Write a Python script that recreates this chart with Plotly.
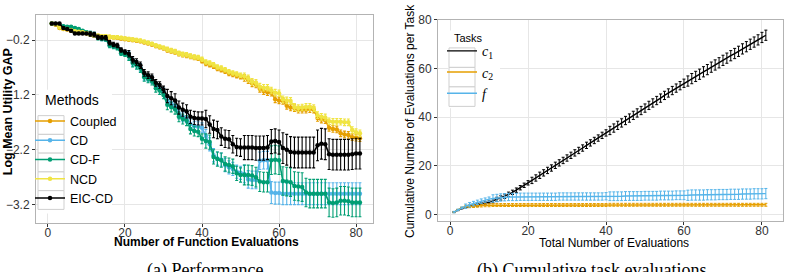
import plotly.graph_objects as go

# ---------------- data: (a) Performance ----------------
x_eval = list(range(1, 82))

coupled = [0.10, 0.08, 0.02, 0.00, -0.01, -0.03, -0.05, -0.06, -0.06, -0.08,
           -0.10, -0.12, -0.13, -0.14, -0.14, -0.15, -0.15, -0.16, -0.17, -0.18,
           -0.19, -0.20, -0.21, -0.22, -0.24, -0.26, -0.28, -0.31, -0.33, -0.35,
           -0.38, -0.40, -0.42, -0.45, -0.47, -0.48, -0.50, -0.52, -0.53, -0.58,
           -0.63, -0.65, -0.68, -0.72, -0.74, -0.77, -0.81, -0.83, -0.85, -0.87,
           -0.89, -0.93, -0.99, -1.01, -1.09, -1.13, -1.15, -1.16, -1.28, -1.30,
           -1.31, -1.40, -1.43, -1.44, -1.47, -1.47, -1.47, -1.46, -1.47, -1.62,
           -1.65, -1.66, -1.80, -1.82, -1.83, -1.90, -1.92, -1.93, -1.97, -1.98,
           -1.99]
coupled_err = [0.02]*10 + [0.03]*20 + [0.04]*20 + [0.06]*31

ncd = [0.10, 0.09, 0.03, 0.01, 0.00, -0.02, -0.04, -0.05, -0.06, -0.07,
       -0.09, -0.11, -0.12, -0.13, -0.13, -0.14, -0.15, -0.15, -0.16, -0.17,
       -0.18, -0.19, -0.20, -0.21, -0.23, -0.25, -0.27, -0.30, -0.32, -0.34,
       -0.37, -0.39, -0.41, -0.44, -0.46, -0.47, -0.49, -0.51, -0.52, -0.55,
       -0.60, -0.62, -0.65, -0.69, -0.71, -0.74, -0.78, -0.80, -0.82, -0.84,
       -0.86, -0.90, -0.96, -0.98, -1.05, -1.07, -1.07, -1.12, -1.16, -1.17,
       -1.28, -1.30, -1.31, -1.42, -1.44, -1.43, -1.42, -1.42, -1.44, -1.57,
       -1.60, -1.61, -1.68, -1.69, -1.69, -1.69, -1.70, -1.70, -1.84, -1.88,
       -1.90]
ncd_err = [0.02]*10 + [0.03]*20 + [0.04]*20 + [0.06]*31

cd = [0.10, 0.09, 0.06, 0.04, 0.03, 0.03, 0.00, -0.02, -0.04, -0.06,
      -0.08, -0.10, -0.15, -0.17, -0.18, -0.29, -0.31, -0.33, -0.43, -0.45,
      -0.48, -0.60, -0.64, -0.70, -0.86, -0.89, -0.92, -1.03, -1.07, -1.14,
      -1.30, -1.35, -1.40, -1.55, -1.60, -1.62, -1.73, -1.77, -1.78, -1.80,
      -1.95, -2.10, -2.30, -2.36, -2.38, -2.48, -2.52, -2.55, -2.60, -2.62,
      -2.64, -2.74, -2.75, -2.75, -2.40, -2.39, -2.39, -2.98, -2.99, -2.99,
      -3.00, -3.00, -3.00, -3.00, -3.00, -3.00, -3.00, -3.00, -3.00, -3.00,
      -3.00, -3.00, -3.00, -3.00, -3.00, -3.00, -3.00, -3.00, -3.00, -3.00,
      -3.00]
cd_err = [0.02]*10 + [0.04]*10 + [0.07]*10 + [0.09]*10 + [0.12]*10 + [0.16]*7 + [0.2]*24

cdf = [0.10, 0.09, 0.07, 0.05, 0.04, 0.04, 0.02, 0.00, -0.03, -0.06,
       -0.08, -0.10, -0.16, -0.17, -0.18, -0.30, -0.32, -0.34, -0.44, -0.46,
       -0.50, -0.62, -0.66, -0.72, -0.88, -0.91, -0.95, -1.08, -1.12, -1.20,
       -1.38, -1.42, -1.46, -1.60, -1.64, -1.67, -1.82, -1.86, -1.87, -2.00,
       -2.04, -2.06, -2.33, -2.37, -2.39, -2.46, -2.48, -2.50, -2.63, -2.66,
       -2.66, -2.66, -2.67, -2.70, -2.78, -2.79, -2.79, -2.39, -2.38, -2.39,
       -2.77, -2.78, -2.79, -2.86, -2.87, -2.88, -2.98, -3.00, -3.00, -3.00,
       -3.00, -3.00, -3.16, -3.17, -3.16, -3.13, -3.13, -3.14, -3.16, -3.16,
       -3.16]
cdf_err = [0.02]*10 + [0.04]*10 + [0.07]*10 + [0.09]*10 + [0.13]*10 + [0.18]*7 + [0.26]*24

eiccd = [0.10, 0.10, 0.10, 0.02, 0.00, -0.03, -0.08, -0.08, -0.08, -0.08,
         -0.09, -0.10, -0.15, -0.16, -0.16, -0.25, -0.28, -0.30, -0.38, -0.42,
         -0.45, -0.56, -0.60, -0.66, -0.80, -0.84, -0.88, -0.98, -1.02, -1.10,
         -1.22, -1.26, -1.30, -1.43, -1.47, -1.50, -1.60, -1.62, -1.63, -1.63,
         -1.64, -1.74, -1.82, -1.84, -1.96, -2.00, -2.01, -2.10, -2.15, -2.16,
         -2.16, -2.16, -2.16, -2.17, -2.17, -2.17, -2.16, -2.05, -2.04, -2.06,
         -2.17, -2.20, -2.24, -2.25, -2.25, -2.25, -2.25, -2.25, -2.25, -2.12,
         -2.09, -2.10, -2.28, -2.29, -2.29, -2.29, -2.29, -2.29, -2.28, -2.27,
         -2.27]
eiccd_err = [0.02]*10 + [0.04]*10 + [0.06]*10 + [0.12]*10 + [0.16]*10 + [0.22]*10 + [0.28]*21

methods = ["Coupled", "CD", "CD-F", "NCD", "EIC-CD"]
method_vals = [coupled, cd, cdf, ncd, eiccd]
method_errs = [coupled_err, cd_err, cdf_err, ncd_err, eiccd_err]
method_colors = ["#E69F00", "#56B4E9", "#009E73", "#F0E442", "#000000"]

perf_xticks = [0, 20, 40, 60, 80]
perf_yticks = [-0.2, -1.2, -2.2, -3.2]

# ---------------- data: (b) Cumulative task evaluations ----------------
c1 = [1.0, 1.8, 2.5, 3.0, 3.3, 3.6, 3.9, 4.3, 4.7, 5.1,
      5.6, 6.2, 6.8, 7.5, 8.3, 9.1, 10.0, 11.0, 12.0, 13.0,
      14.0, 15.0, 16.1, 17.1, 18.1, 19.1, 20.2, 21.2, 22.2, 23.2,
      24.3, 25.3, 26.3, 27.3, 28.4, 29.4, 30.4, 31.4, 32.5, 33.5,
      34.5, 35.5, 36.6, 37.6, 38.6, 39.6, 40.7, 41.7, 42.7, 43.7,
      44.8, 45.8, 46.8, 47.8, 48.9, 49.9, 50.9, 51.9, 52.9, 53.9,
      54.8, 55.8, 56.7, 57.6, 58.6, 59.5, 60.5, 61.4, 62.3, 63.3,
      64.2, 65.2, 66.1, 67.0, 68.0, 68.9, 69.9, 70.8, 71.7, 72.7,
      73.6]
c1_err = [0.2]*5 + [0.5]*5 + [0.9]*10 + [1.3]*20 + [1.7]*20 + [2.1]*21

c2 = [1.0, 1.9, 2.8, 3.2, 3.4, 3.5, 3.6, 3.7, 3.8, 3.8,
      3.9, 3.9, 3.9, 3.9, 3.9, 3.9, 3.9, 3.9, 3.9, 3.9,
      3.9, 3.9, 3.9, 3.9, 3.9, 3.9, 3.9, 3.9, 3.9, 3.9,
      3.9, 3.9, 3.9, 3.9, 3.9, 3.9, 3.9, 3.9, 3.9, 3.9,
      4.0, 4.0, 4.0, 4.0, 4.0, 4.0, 4.0, 4.0, 4.0, 4.0,
      4.0, 4.0, 4.0, 4.0, 4.0, 4.0, 4.0, 4.0, 4.0, 4.0,
      4.0, 4.0, 4.0, 4.0, 4.0, 4.0, 4.0, 4.0, 4.0, 4.0,
      4.0, 4.0, 4.0, 4.0, 4.0, 4.0, 4.0, 4.0, 4.0, 4.0,
      4.0]
c2_err = [0.2]*3 + [0.6]*78

f_task = [1.0, 1.9, 2.8, 3.4, 4.0, 4.5, 5.0, 5.5, 5.9, 6.3,
          6.6, 6.8, 7.0, 7.1, 7.2, 7.2, 7.2, 7.3, 7.3, 7.3,
          7.3, 7.3, 7.3, 7.3, 7.3, 7.3, 7.3, 7.4, 7.4, 7.4,
          7.4, 7.4, 7.4, 7.4, 7.4, 7.4, 7.4, 7.4, 7.4, 7.5,
          7.5, 7.5, 7.5, 7.5, 7.6, 7.6, 7.6, 7.6, 7.6, 7.7,
          7.7, 7.7, 7.7, 7.8, 7.8, 7.8, 7.8, 7.9, 7.9, 7.9,
          7.9, 8.0, 8.0, 8.0, 8.0, 8.1, 8.1, 8.1, 8.2, 8.2,
          8.2, 8.3, 8.3, 8.3, 8.4, 8.4, 8.4, 8.5, 8.5, 8.5,
          8.6]
f_err = [0.3]*3 + [0.9]*7 + [1.5]*30 + [1.8]*20 + [2.1]*21

tasks = ["<i>c</i><sub>1</sub>", "<i>c</i><sub>2</sub>", "<i>f</i>"]
task_vals = [c1, c2, f_task]
task_errs = [c1_err, c2_err, f_err]
task_colors = ["#000000", "#E69F00", "#56B4E9"]

cum_xticks = [0, 20, 40, 60, 80]
cum_yticks = [0, 20, 40, 60, 80]

# ---------------- figure ----------------
W, H = 786, 272
SANS = "Liberation Sans, Arial, sans-serif"
SERIF = "Liberation Serif, DejaVu Serif, serif"


def px(x):
    return x / W


def py(y):
    return 1 - y / H


fig = go.Figure()

for name, vals, errs, col in zip(methods, method_vals, method_errs, method_colors):
    fig.add_trace(go.Scatter(
        x=x_eval, y=vals, name=name, mode="lines+markers",
        line=dict(color=col, width=1.6),
        marker=dict(color=col, size=4.5),
        error_y=dict(type="data", array=errs, color=col, thickness=1.1, width=1.5),
        xaxis="x", yaxis="y", legend="legend",
    ))

for name, vals, errs, col in zip(tasks, task_vals, task_errs, task_colors):
    fig.add_trace(go.Scatter(
        x=x_eval, y=vals, name=name, mode="lines",
        line=dict(color=col, width=1.4),
        error_y=dict(type="data", array=errs, color=col, thickness=1.0, width=1.5),
        xaxis="x2", yaxis="y2", legend="legend2",
    ))

axis_common = dict(
    showgrid=True, gridcolor="#E6E6E6", gridwidth=1,
    showline=True, linecolor="#B3B3B3", linewidth=1, mirror=True,
    ticks="outside", ticklen=3, tickcolor="#333333", tickwidth=1,
    tickfont=dict(family=SANS, size=12, color="#333333"),
    zeroline=False,
)

fig.update_layout(
    width=W, height=H,
    margin=dict(l=0, r=0, t=0, b=0),
    paper_bgcolor="white", plot_bgcolor="white",
    font=dict(family=SANS, color="#000000"),
    xaxis=dict(domain=[px(36), px(373)], range=[-3.1, 84.4], tickvals=perf_xticks,
               anchor="y", ticklabelstandoff=-5, **axis_common),
    yaxis=dict(domain=[py(222), py(8)], range=[-3.54, 0.26], tickvals=perf_yticks,
               anchor="x", **axis_common),
    xaxis2=dict(domain=[px(438), px(783)], range=[-3.1, 85.4], tickvals=cum_xticks,
                anchor="y2", ticklabelstandoff=-5, **axis_common),
    yaxis2=dict(domain=[py(220), py(13)], range=[-2.8, 80], tickvals=cum_yticks,
                anchor="x2", **axis_common),
    legend=dict(
        x=px(30), y=py(102), xanchor="left", yanchor="top",
        bgcolor="rgba(0,0,0,0)", borderwidth=0,
        font=dict(family=SANS, size=12.5, color="#000000"),
        itemwidth=30, tracegroupgap=0,
    ),
    legend2=dict(
        x=px(442), y=py(29), xanchor="left", yanchor="top",
        bgcolor="rgba(0,0,0,0)", borderwidth=0,
        font=dict(family=SERIF, size=14, color="#000000"),
        itemwidth=30, tracegroupgap=0,
    ),
)

# legend backgrounds and key boxes (ggplot style)
fig.add_shape(type="rect", xref="paper", yref="paper",
              x0=px(39), x1=px(112), y0=py(212), y1=py(85),
              fillcolor="white", line=dict(width=0), layer="above")
fig.add_shape(type="rect", xref="paper", yref="paper",
              x0=px(448), x1=px(500), y0=py(104), y1=py(24),
              fillcolor="white", line=dict(width=0), layer="above")
for i in range(len(methods)):
    top = 111.5 + 19.25 * i
    fig.add_shape(type="rect", xref="paper", yref="paper",
                  x0=px(38), x1=px(64), y0=py(top + 19.25), y1=py(top),
                  fillcolor="white", line=dict(color="#CFCFCF", width=1), layer="above")
for i in range(len(tasks)):
    top = 42 + 20 * i
    fig.add_shape(type="rect", xref="paper", yref="paper",
                  x0=px(449), x1=px(475), y0=py(top + 20), y1=py(top),
                  fillcolor="white", line=dict(color="#CFCFCF", width=1), layer="above")

annotations = [
    dict(text="<b>Number of Function Evaluations</b>", x=px(206), y=py(241),
         font=dict(size=12)),
    dict(text="<b>Log Mean Utility GAP</b>", x=px(8), y=py(108), textangle=-90,
         font=dict(size=12.5)),
    dict(text="Total Number of Evaluations", x=px(614), y=py(242),
         font=dict(size=12)),
    dict(text="Cumulative Number of Evaluations per Task", x=px(410), y=py(117),
         textangle=-90, font=dict(size=12)),
    dict(text="Methods", x=px(43), y=py(95), xanchor="left", font=dict(size=14)),
    dict(text="Tasks", x=px(452), y=py(32), xanchor="left", font=dict(size=11)),
    dict(text="(a) Performance", x=px(205), y=py(258), yanchor="top",
         font=dict(family=SERIF, size=18)),
    dict(text="(b) Cumulative task evaluations", x=px(591), y=py(258), yanchor="top",
         font=dict(family=SERIF, size=18)),
]
for a in annotations:
    a.setdefault("yanchor", "middle")
    a.setdefault("xanchor", "center")
    fig.add_annotation(xref="paper", yref="paper", showarrow=False, **a)

fig.write_html("out.html")
